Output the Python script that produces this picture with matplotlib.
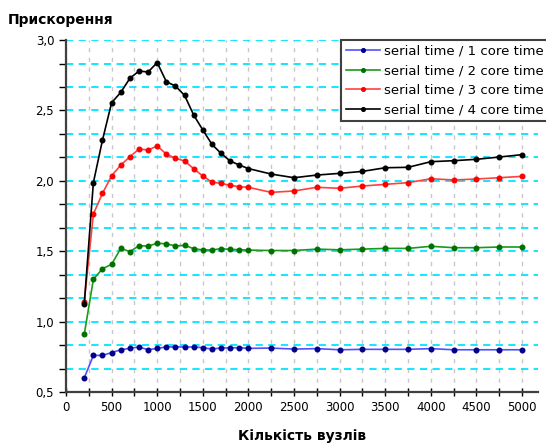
import matplotlib
matplotlib.use("Agg")
import matplotlib.pyplot as plt
from matplotlib.ticker import MultipleLocator, FuncFormatter

# number of nodes
nodes = [200, 300, 400, 500, 600, 700, 800, 900, 1000, 1100, 1200, 1300, 1400,
         1500, 1600, 1700, 1800, 1900, 2000, 2250, 2500, 2750, 3000, 3250, 3500,
         3750, 4000, 4250, 4500, 4750, 5000]

# speedup: serial time / N core time
speed_1 = [0.60, 0.76, 0.76, 0.78, 0.80, 0.81, 0.82, 0.80, 0.81, 0.82, 0.82, 0.82, 0.82,
           0.815, 0.805, 0.813, 0.813, 0.815, 0.81, 0.812, 0.805, 0.808, 0.80, 0.803, 0.803,
           0.803, 0.808, 0.80, 0.80, 0.80, 0.80]
speed_2 = [0.91, 1.30, 1.376, 1.407, 1.52, 1.497, 1.539, 1.537, 1.556, 1.553, 1.537, 1.542, 1.518,
           1.509, 1.509, 1.518, 1.513, 1.511, 1.508, 1.505, 1.505, 1.515, 1.51, 1.515, 1.52,
           1.52, 1.535, 1.525, 1.525, 1.53, 1.53]
speed_3 = [1.14, 1.764, 1.911, 2.036, 2.112, 2.171, 2.226, 2.219, 2.247, 2.19, 2.16, 2.141, 2.086,
           2.034, 1.991, 1.982, 1.968, 1.958, 1.954, 1.918, 1.928, 1.954, 1.947, 1.963, 1.975,
           1.987, 2.015, 2.006, 2.013, 2.022, 2.032]
speed_4 = [1.125, 1.987, 2.29, 2.555, 2.628, 2.728, 2.78, 2.773, 2.84, 2.704, 2.673, 2.607, 2.467,
           2.361, 2.259, 2.195, 2.141, 2.112, 2.087, 2.048, 2.022, 2.041, 2.053, 2.067, 2.093,
           2.096, 2.136, 2.143, 2.153, 2.169, 2.186]

labels = ['serial time / 1 core time', 'serial time / 2 core time',
          'serial time / 3 core time', 'serial time / 4 core time']

fig = plt.figure(figsize=(5.46, 4.45), dpi=100)
ax = fig.add_axes([0.1209, 0.1191, 0.8645, 0.7909])

ms = 3.3
ax.plot(nodes, speed_1, color='#5050ff', lw=1.2, marker='o', ms=ms,
        mfc='#00008b', mec='#00008b', label=labels[0], zorder=5)
ax.plot(nodes, speed_2, color='#1a9a1a', lw=1.2, marker='o', ms=ms,
        mfc='#007000', mec='#007000', label=labels[1], zorder=5)
ax.plot(nodes, speed_3, color='#ff4040', lw=1.2, marker='o', ms=ms,
        mfc='#ff0000', mec='#ff0000', label=labels[2], zorder=5)
ax.plot(nodes, speed_4, color='black', lw=1.2, marker='o', ms=ms,
        mfc='black', mec='black', label=labels[3], zorder=5)

ax.set_xlim(0, 5175)
ax.set_ylim(0.5, 3.0)

ax.xaxis.set_major_locator(MultipleLocator(500))
ax.xaxis.set_minor_locator(MultipleLocator(250))
ax.yaxis.set_major_locator(MultipleLocator(0.5))
ax.yaxis.set_minor_locator(MultipleLocator(0.5 / 3))
ax.yaxis.set_major_formatter(FuncFormatter(lambda v, p: f'{v:.1f}'.replace('.', ',')))

ax.grid(True, which='both', axis='x', color='#c8c8c8', ls=(0, (3, 4)), lw=1)
ax.grid(True, which='both', axis='y', color='#00e5ff', ls=(0, (4, 3)), lw=1.3)
ax.set_axisbelow(True)

for s in ['top', 'right']:
    ax.spines[s].set_visible(False)
for s in ['left', 'bottom']:
    ax.spines[s].set_color('#404040')
    ax.spines[s].set_linewidth(1.6)

ax.tick_params(axis='x', which='both', direction='inout', length=6, width=1, colors='black',
               labelsize=8.5)
ax.tick_params(axis='y', which='both', direction='out', length=5, width=1, colors='black',
               labelsize=8.5)

ax.set_xlabel('Кількість вузлів', fontsize=10, fontweight='bold', labelpad=11)
fig.text(0.015, 0.955, 'Прискорення', fontsize=10, fontweight='bold', ha='left', va='center')

leg = ax.legend(loc='upper left', bbox_to_anchor=(341 / 546, 1 - 40 / 445),
                bbox_transform=fig.transFigure, fontsize=9.5, frameon=True, fancybox=False,
                framealpha=1, edgecolor='#404040', borderpad=0.35, labelspacing=0.5,
                handlelength=2.6, handletextpad=0.3, borderaxespad=0, markerscale=0.8)
leg.get_frame().set_linewidth(1.5)

fig.savefig('out.png', dpi=100)
